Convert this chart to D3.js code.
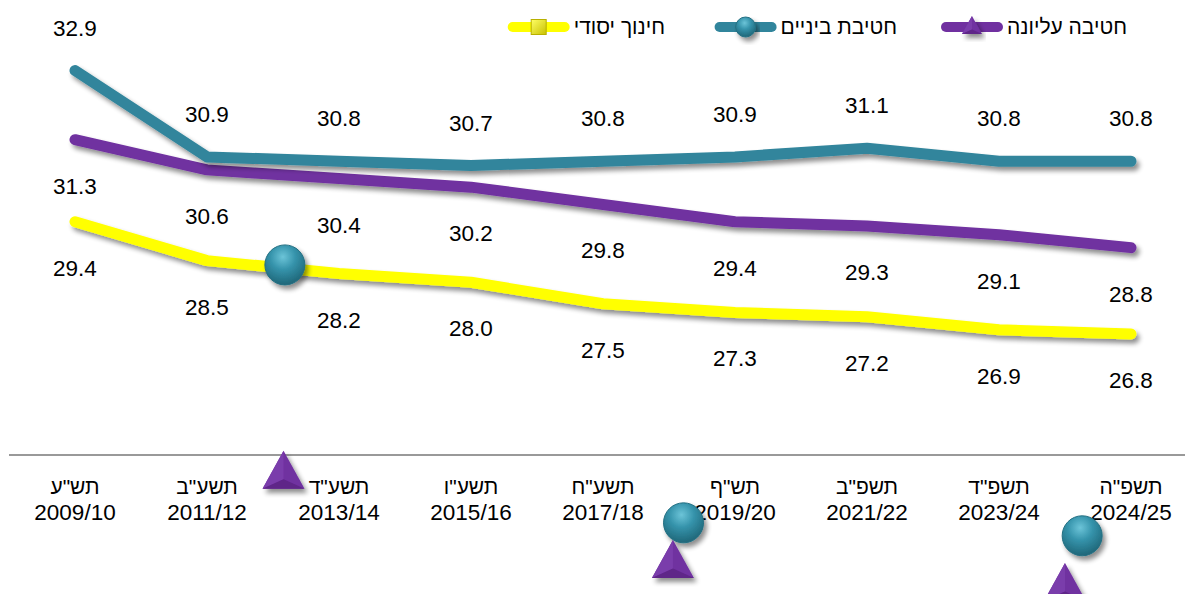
<!DOCTYPE html>
<html>
<head>
<meta charset="utf-8">
<script src="https://cdn.jsdelivr.net/npm/d3@7"></script>
<style>
  body { margin: 0; background: #fff; }
  text { font-family: "Liberation Sans", Arial, sans-serif; fill: #000; }
</style>
</head>
<body>
<div id="chart"></div>
<script>
// Chart size
const width = 1185;
const height = 594;

// Data
const yearsHeb = ["תש\"ע", "תשע\"ב", "תשע\"ד", "תשע\"ו", "תשע\"ח", "תש\"ף", "תשפ\"ב", "תשפ\"ד", "תשפ\"ה"];
const yearsGreg = ["2009/10", "2011/12", "2013/14", "2015/16", "2017/18", "2019/20", "2021/22", "2023/24", "2024/25"];
const middleSchool = [32.9, 30.9, 30.8, 30.7, 30.8, 30.9, 31.1, 30.8, 30.8];
const highSchool = [31.3, 30.6, 30.4, 30.2, 29.8, 29.4, 29.3, 29.1, 28.8];
const elementary = [29.4, 28.5, 28.2, 28.0, 27.5, 27.3, 27.2, 26.9, 26.8];
const seriesNames = ["חטיבה עליונה", "חטיבת ביניים", "חינוך יסודי"];
// stray markers left in the picture (category index, value)
const strayMarkers = [
  { shape: "circle", idx: 1.59, value: 28.40 },
  { shape: "triangle", idx: 1.58, value: 23.66 },
  { shape: "circle", idx: 4.61, value: 22.43 },
  { shape: "triangle", idx: 4.53, value: 21.59 },
  { shape: "circle", idx: 7.63, value: 22.13 },
  { shape: "triangle", idx: 7.50, value: 21.06 }
];

const colors = { teal: "#31859C", purple: "#7030A0", yellow: "#FFFF00" };

const svg = d3.select("#chart")
  .append("svg")
  .attr("width", width)
  .attr("height", height);

const defs = svg.append("defs");

// Drop shadow
const shadow = defs.append("filter").attr("id", "shadow")
  .attr("x", "-20%").attr("y", "-20%").attr("width", "140%").attr("height", "160%");
shadow.append("feGaussianBlur").attr("in", "SourceAlpha").attr("stdDeviation", 2.5);
shadow.append("feOffset").attr("dx", 3).attr("dy", 4).attr("result", "off");
shadow.append("feComponentTransfer").append("feFuncA").attr("type", "linear").attr("slope", 0.45);
const merge = shadow.append("feMerge");
merge.append("feMergeNode");
merge.append("feMergeNode").attr("in", "SourceGraphic");

// Gradients for markers
const ballGrad = defs.append("radialGradient").attr("id", "ball")
  .attr("cx", "45%").attr("cy", "30%").attr("r", "70%");
ballGrad.append("stop").attr("offset", "0%").attr("stop-color", "#6cc4d8");
ballGrad.append("stop").attr("offset", "45%").attr("stop-color", "#3593ab");
ballGrad.append("stop").attr("offset", "100%").attr("stop-color", "#1f6678");

const boxGrad = defs.append("linearGradient").attr("id", "box")
  .attr("x1", "0").attr("y1", "0").attr("x2", "1").attr("y2", "1");
boxGrad.append("stop").attr("offset", "0%").attr("stop-color", "#ffff66");
boxGrad.append("stop").attr("offset", "100%").attr("stop-color", "#c8c000");

// Scales
const xScale = d3.scalePoint()
  .domain(yearsGreg)
  .range([75, 1131]);

const yScale = d3.scaleLinear()
  .domain([24, 34])
  .range([455, 23]);

const xAt = i => xScale(yearsGreg[0]) + i * xScale.step();

// Axis line
svg.append("line")
  .attr("x1", 9).attr("x2", width)
  .attr("y1", yScale(24)).attr("y2", yScale(24))
  .attr("stroke", "#999").attr("stroke-width", 2);

// Category labels
const xAxis = svg.append("g");
yearsGreg.forEach((g, i) => {
  const x = xScale(g);
  xAxis.append("text").attr("x", x).attr("y", 494)
    .attr("text-anchor", "middle").attr("font-size", 21).text(yearsHeb[i]);
  xAxis.append("text").attr("x", x).attr("y", 520)
    .attr("text-anchor", "middle").attr("font-size", 22.5).text(g);
});

// Lines
const line = d3.line()
  .x((d, i) => xScale(yearsGreg[i]))
  .y(d => yScale(d));

const series = [
  { values: elementary, color: colors.yellow, labelDy: 54 },
  { values: highSchool, color: colors.purple, labelDy: 54 },
  { values: middleSchool, color: colors.teal, labelDy: -35 }
];

series.forEach(s => {
  svg.append("path")
    .datum(s.values)
    .attr("d", line)
    .attr("fill", "none")
    .attr("stroke", s.color)
    .attr("stroke-width", 11)
    .attr("stroke-linecap", "round")
    .attr("stroke-linejoin", "round")
    .attr("filter", "url(#shadow)");
});

// Data labels
series.forEach(s => {
  svg.append("g").selectAll("text")
    .data(s.values)
    .enter()
    .append("text")
    .attr("x", (d, i) => xScale(yearsGreg[i]))
    .attr("y", d => yScale(d) + s.labelDy)
    .attr("text-anchor", "middle")
    .attr("font-size", 22.5)
    .text(d => d.toFixed(1));
});

// Marker drawing helpers
function drawBall(g, cx, cy, r) {
  g.append("circle").attr("cx", cx).attr("cy", cy).attr("r", r)
    .attr("fill", "url(#ball)").attr("stroke", "#236f82").attr("stroke-width", 1)
    .attr("filter", "url(#shadow)");
}

function drawPyramid(g, cx, cy, w, h) {
  const top = [cx, cy - h / 2], bl = [cx - w / 2, cy + h / 2], br = [cx + w / 2, cy + h / 2];
  const inner = [cx, cy + h * 0.25];
  const grp = g.append("g").attr("filter", "url(#shadow)");
  grp.append("polygon").attr("points", [top, bl, br].join(" ")).attr("fill", "#7030A0");
  grp.append("polygon").attr("points", [top, bl, inner].join(" ")).attr("fill", "#7a3cab");
  grp.append("polygon").attr("points", [bl, br, inner].join(" ")).attr("fill", "#5e2688");
}

function drawBox(g, cx, cy, s) {
  g.append("rect").attr("x", cx - s / 2).attr("y", cy - s / 2)
    .attr("width", s).attr("height", s)
    .attr("fill", "url(#box)").attr("stroke", "#b8b000").attr("stroke-width", 1);
}

// Stray markers
strayMarkers.forEach(m => {
  const cx = xAt(m.idx), cy = yScale(m.value);
  if (m.shape === "circle") drawBall(svg, cx, cy, 20);
  else drawPyramid(svg, cx, cy, 42, 38);
});

// Legend
const legendItems = [
  { name: seriesNames[0], color: colors.purple, right: 1127, marker: "triangle" },
  { name: seriesNames[1], color: colors.teal, right: 897, marker: "circle" },
  { name: seriesNames[2], color: colors.yellow, right: 665, marker: "square" }
];

const legend = svg.append("g");
legendItems.forEach(item => {
  const t = legend.append("text")
    .attr("x", item.right).attr("y", 34)
    .attr("text-anchor", "end")
    .attr("font-size", 21)
    .text(item.name);
  const tw = t.node().getComputedTextLength();
  const x2 = item.right - tw - 4;
  const x1 = x2 - 62;
  legend.append("line")
    .attr("x1", x1 + 5).attr("x2", x2 - 5)
    .attr("y1", 27).attr("y2", 27)
    .attr("stroke", item.color).attr("stroke-width", 10)
    .attr("stroke-linecap", "round");
  const mx = (x1 + x2) / 2;
  if (item.marker === "triangle") drawPyramid(legend, mx, 25, 20, 18);
  else if (item.marker === "circle") drawBall(legend, mx, 27, 10);
  else drawBox(legend, mx, 27, 15);
});
</script>
</body>
</html>
